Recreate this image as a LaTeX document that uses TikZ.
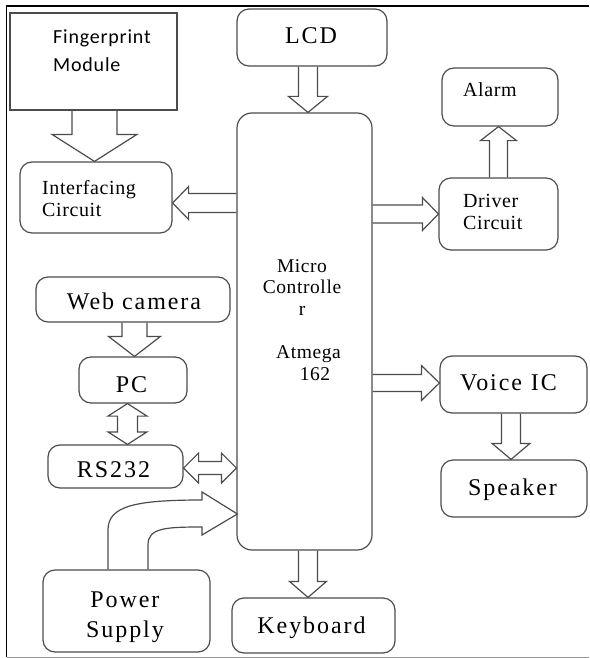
\documentclass[tikz,border=0pt]{standalone}
\usepackage{fontspec}
\setmainfont{Liberation Serif}
\newfontfamily\fpfont{Carlito}[LetterSpace=4]
\newfontfamily\bigfont{Liberation Serif}[LetterSpace=8]
\newfontfamily\smallfont{Liberation Serif}[LetterSpace=3]
\usetikzlibrary{calc}
\newcommand{\fatarrow}[5]{%
 \draw[fat] ($(#1)!#3!90:(#2)$)
   -- ($($(#2)!#5!(#1)$)!#3!-90:(#1)$)
   -- ($($(#2)!#5!(#1)$)!#4!-90:(#1)$)
   -- (#2)
   -- ($($(#2)!#5!(#1)$)!#4!90:(#1)$)
   -- ($($(#2)!#5!(#1)$)!#3!90:(#1)$)
   -- ($(#1)!#3!-90:(#2)$);}
\newcommand{\fatdarrow}[5]{%
 \draw[fat] (#1)
  -- ($($(#1)!#5!(#2)$)!#4!90:(#2)$)
  -- ($($(#1)!#5!(#2)$)!#3!90:(#2)$)
  -- ($($(#2)!#5!(#1)$)!#3!-90:(#1)$)
  -- ($($(#2)!#5!(#1)$)!#4!-90:(#1)$)
  -- (#2)
  -- ($($(#2)!#5!(#1)$)!#4!90:(#1)$)
  -- ($($(#2)!#5!(#1)$)!#3!90:(#1)$)
  -- ($($(#1)!#5!(#2)$)!#3!-90:(#2)$)
  -- ($($(#1)!#5!(#2)$)!#4!-90:(#2)$)
  -- cycle;}
\tikzset{
  rbox/.style={draw=black!70, line width=1.2pt, rounded corners=12pt, inner sep=0pt},
  sbox/.style={draw=black!70, line width=1.2pt, inner sep=0pt},
  fat/.style={draw=black!70, line width=1.2pt, line join=miter},
  big/.style={font=\bigfont\fontsize{24}{30}\selectfont, inner sep=0pt, align=center},
  small/.style={font=\smallfont\fontsize{20}{22}\selectfont, inner sep=0pt, align=left},
  mctext/.style={font=\smallfont\fontsize{19.5}{21.7}\selectfont, inner sep=0pt, align=center},
  fptext/.style={font=\fpfont\fontsize{20}{28}\selectfont, inner sep=0pt, align=left}
}
\begin{document}
\begin{tikzpicture}[x=1pt,y=-1pt]
\useasboundingbox (0,0) rectangle (589,658);
% frame
\draw[line width=1.6pt] (6.5,657) -- (6.5,6) -- (589,6);
\draw[black!40, line width=1pt] (6.5,657) -- (589,657);
% boxes
\node[sbox, minimum width=167pt, minimum height=97pt] (fp) at (93.5,61.5) {};
\node[rbox, minimum width=150pt, minimum height=57pt] (lcd) at (312,37.5) {};
\node[rbox, minimum width=152pt, minimum height=71pt] (ifc) at (96,197.5) {};
\node[rbox, minimum width=116pt, minimum height=58pt] (alarm) at (500,97) {};
\node[rbox, minimum width=135pt, minimum height=437pt, rounded corners=15pt] (mc) at (304.5,331.5) {};
\node[rbox, minimum width=119pt, minimum height=72pt] (drv) at (498.5,214) {};
\node[rbox, minimum width=194pt, minimum height=45pt] (web) at (133,299.5) {};
\node[rbox, minimum width=108pt, minimum height=46pt] (pc) at (133,380) {};
\node[rbox, minimum width=135pt, minimum height=43pt] (rs) at (115.5,466.5) {};
\node[rbox, minimum width=147pt, minimum height=57pt] (voice) at (513.5,384.5) {};
\node[rbox, minimum width=146pt, minimum height=57pt] (spk) at (514,488.5) {};
\node[rbox, minimum width=167pt, minimum height=82pt] (pwr) at (126.5,611) {};
\node[rbox, minimum width=163pt, minimum height=55pt] (kbd) at (313.5,625.5) {};
% texts
\node[fptext, anchor=north west] (fpt) at (53,30) {Fingerprint\\Module};
\node[big, anchor=base] (lcdt) at (311,44) {LCD};
\node[small, anchor=north west] (ifct) at (42,180) {Interfacing\\Circuit};
\node[small, anchor=base west] (alarmt) at (463,97) {Alarm};
\node[small, anchor=north west] (drvt) at (463,194) {Driver\\Circuit};
\node[mctext, anchor=north] (mct) at (302,259) {Micro\\Controlle\\r\\[21.7pt]\hspace*{13pt}Atmega\\\hspace*{26pt}162};
\node[big, anchor=base] (webt) at (134,309) {Web camera};
\node[big, anchor=base] (pct) at (131.5,392) {PC};
\node[big, anchor=base] (rst) at (113.5,477) {RS232};
\node[big, anchor=north] (pwrt) at (125,592) {Power\\Supply};
\node[big, anchor=base] (kbdt) at (311.5,633) {Keyboard};
\node[big, anchor=base] (voicet) at (508.5,390) {Voice\hspace{9pt}IC};
\node[big, anchor=base] (spkt) at (512.5,495) {Speaker};
% arrow end points
\coordinate (a1) at ($(fp.south)+(1,0)$);
\coordinate (b1) at ($(fp.south|-ifc.north)+(1,0)$);
\coordinate (a2) at ($(lcd.south)+(-4,0)$);
\coordinate (b2) at ($(lcd.south|-mc.north)+(-4,0)$);
\coordinate (a3) at ($(mc.west|-ifc.east)+(0,5.5)$);
\coordinate (b3) at ($(ifc.east)+(0,5.5)$);
\coordinate (a4) at (mc.east|-drv.west);
\coordinate (b4) at (drv.west);
\coordinate (a5) at (drv.north);
\coordinate (b5) at (drv.north|-alarm.south);
\coordinate (a6) at ($(web.south)+(1.5,0)$);
\coordinate (b6) at ($(web.south|-pc.north)+(1.5,0)$);
\coordinate (a7) at ($(pc.south)+(-5.5,0)$);
\coordinate (b7) at ($(pc.south|-rs.north)+(-5.5,0)$);
\coordinate (a8) at ($(rs.east)+(0,1.5)$);
\coordinate (b8) at ($(rs.east-|mc.west)+(0,1.5)$);
\coordinate (a9) at ($(mc.east|-voice.west)+(0,-1.5)$);
\coordinate (b9) at ($(voice.west)+(0,-1.5)$);
\coordinate (a10) at ($(voice.south)+(-2.5,0)$);
\coordinate (b10) at ($(voice.south|-spk.north)+(-2.5,0)$);
\coordinate (a11) at ($(mc.south)+(3.5,0)$);
\coordinate (b11) at ($(mc.south|-kbd.north)+(3.5,0)$);
\coordinate (p1) at ($(pwr.north)+(-18.5,0)$);
\coordinate (p2) at ($(pwr.north)+(21.5,0)$);
\coordinate (ptip) at ($(mc.west)+(1,182.5)$);
% arrows
\fatarrow{a1}{b1}{22.5pt}{42.5pt}{27pt}
\fatarrow{a2}{b2}{9.5pt}{19.5pt}{16pt}
\fatarrow{a3}{b3}{9.5pt}{16.5pt}{16pt}
\fatarrow{a4}{b4}{9pt}{16.5pt}{16pt}
\fatarrow{a5}{b5}{9pt}{18pt}{14pt}
\fatarrow{a6}{b6}{12.5pt}{26pt}{20pt}
\fatdarrow{a7}{b7}{10pt}{19.5pt}{12.5pt}
\fatdarrow{a8}{b8}{6.5pt}{15pt}{15pt}
\fatarrow{a9}{b9}{8.5pt}{17.5pt}{18pt}
\fatarrow{a10}{b10}{9.5pt}{19pt}{16pt}
\fatarrow{a11}{b11}{9.5pt}{18.5pt}{16pt}
\draw[fat] (p1) -- (108,530) .. controls (108,506) and (135,500) .. (202,500)
  -- (202,492) -- (ptip) -- (202,535) -- (202,527)
  .. controls (165,527) and (148,528) .. (148,545) -- (p2);
\end{tikzpicture}
\end{document}
